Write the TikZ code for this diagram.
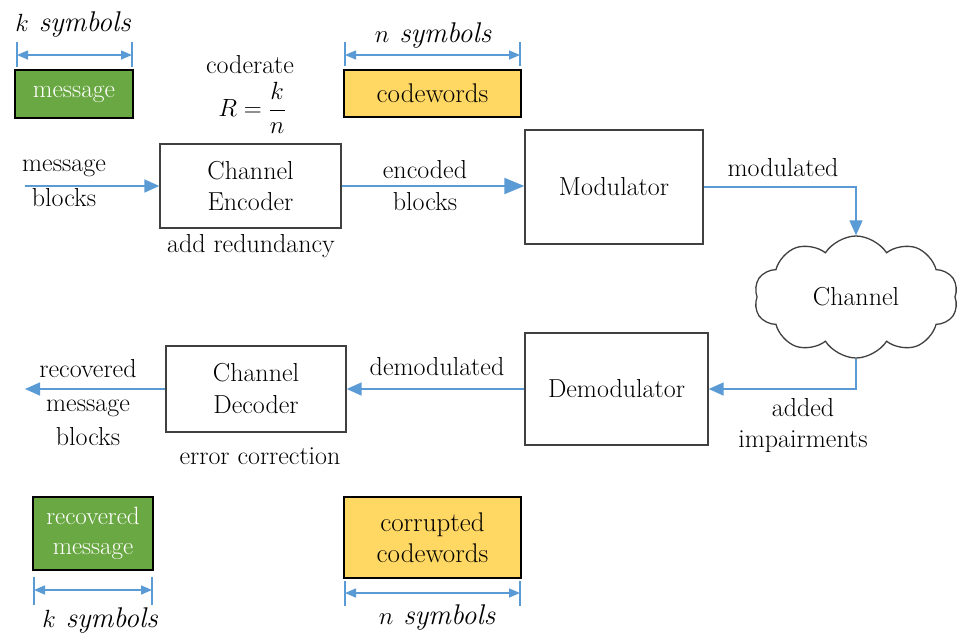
\documentclass[tikz,border=0pt]{standalone}
\usepackage{fontspec}
\usetikzlibrary{shapes.symbols,arrows.meta}
\definecolor{arr}{HTML}{5B9BD5}
\definecolor{grn}{HTML}{6AA843}
\definecolor{ylw}{HTML}{FFD864}
\definecolor{bord}{HTML}{404040}
\begin{document}
\begin{tikzpicture}[x=1pt,y=-1pt,
 box/.style={draw=bord, line width=1.3pt, fill=white, inner sep=0pt, align=center, font=\fontsize{26}{31}\selectfont},
 cbox/.style={draw=black, line width=1.5pt, inner sep=0pt, align=center, font=\fontsize{27}{31}\selectfont},
 lbl/.style={align=center, inner sep=0pt, font=\fontsize{26}{32}\selectfont},
 sym/.style={inner sep=0pt, font=\fontsize{28.5}{30}\selectfont\itshape},
 flow/.style={draw=arr, line width=1.6pt, -{Triangle[length=15pt,width=13pt]}},
 bigflow/.style={draw=arr, line width=1.8pt, -{Triangle[length=20pt,width=16pt]}},
 dim/.style={draw=arr, line width=1.5pt, {Triangle[length=11pt,width=9pt]}-{Triangle[length=11pt,width=9pt]}},
 tickln/.style={draw=arr, line width=1.2pt}]
\useasboundingbox (0,0) rectangle (957,635);

% main boxes
\node[box, minimum width=181pt, minimum height=84pt] (enc) at (250.5,186) {Channel\\Encoder};
\node[box, minimum width=178pt, minimum height=114pt] (mod) at (614,187) {Modulator};
\node[box, minimum width=183pt, minimum height=112pt] (dem) at (616.5,389) {Demodulator};
\node[box, minimum width=180pt, minimum height=86pt, font=\fontsize{26}{32}\selectfont] (dec) at (256,389) {Channel\\Decoder};
\node[cloud, draw=bord, line width=1.3pt, cloud puffs=10, cloud puff arc=115, aspect=1.7,
      minimum width=204pt, minimum height=122pt, inner sep=0pt,
      font=\fontsize{26}{30}\selectfont] (ch) at (856,297) {Channel};

% coloured boxes
\node[cbox, fill=grn, text=white, minimum width=118pt, minimum height=48pt, font=\fontsize{25.5}{30}\selectfont] (msg) at (74,94) {message};
\node[cbox, fill=ylw, minimum width=177pt, minimum height=47pt] (cw) at (432.5,93.5) {codewords};
\node[cbox, fill=grn, text=white, minimum width=120pt, minimum height=73pt, font=\fontsize{25}{30}\selectfont] (rmsg) at (93,533.5) {recovered\\message};
\node[cbox, fill=ylw, minimum width=177pt, minimum height=81pt] (ccw) at (432.5,537.5) {corrupted\\codewords};

% flow arrows
\coordinate (inp) at (25,186);
\coordinate (outp) at (25,389);
\draw[flow] (inp) -- (enc.west);
\draw[bigflow] (enc.east) -- (enc.east -| mod.west);
\draw[flow] (mod.east) -| (ch.north);
\draw[flow] (ch.south) |- (dem.east);
\draw[flow] (dem.west) -- (dec.east);
\draw[flow] (dec.west) -- (outp);

% labels
\node[lbl, font=\fontsize{26}{35}\selectfont] (lmb) at (64,183) {message\\blocks};
\node[lbl] (leb) at (425,186) {encoded\\blocks};
\node[lbl] (lmo) at (783,168) {modulated};
\node[lbl, font=\fontsize{26}{31}\selectfont] (lai) at (803,426) {added\\impairments};
\node[lbl] (ldm) at (437,367) {demodulated};
\node[lbl, font=\fontsize{26}{34}\selectfont] (lrm) at (88,403) {recovered\\message\\blocks};
\node[lbl] (lar) at (251,246) {add redundancy};
\node[lbl] (lec) at (260,456) {error correction};
\node[lbl] (lcr) at (250,65) {coderate};
\node[inner sep=0pt, font=\fontsize{33}{33}\selectfont] (rate) at (252,108) {$\displaystyle R=\frac{k}{n}$};

% dimension markers
\coordinate (a1) at (17,55); \coordinate (a2) at (132,55);
\draw[tickln] (17,42) -- (17,67) (132,42) -- (132,67);
\draw[dim] (a1) -- (a2);
\node[sym] (ks1) at (73,25) {$k$ symbols};

\coordinate (b1) at (345,55); \coordinate (b2) at (520,55);
\draw[tickln] (345,42) -- (345,66) (520,42) -- (520,66);
\draw[dim] (b1) -- (b2);
\node[sym] (ns1) at (433,36) {$n$ symbols};

\coordinate (c1) at (34,590); \coordinate (c2) at (152,590);
\draw[tickln] (34,577) -- (34,605) (152,577) -- (152,605);
\draw[dim] (c1) -- (c2);
\node[sym] (ks2) at (100,621) {$k$ symbols};

\coordinate (d1) at (345,593); \coordinate (d2) at (520,593);
\draw[tickln] (345,581) -- (345,606) (520,581) -- (520,606);
\draw[dim] (d1) -- (d2);
\node[sym] (ns2) at (437,618) {$n$ symbols};
\end{tikzpicture}
\end{document}
